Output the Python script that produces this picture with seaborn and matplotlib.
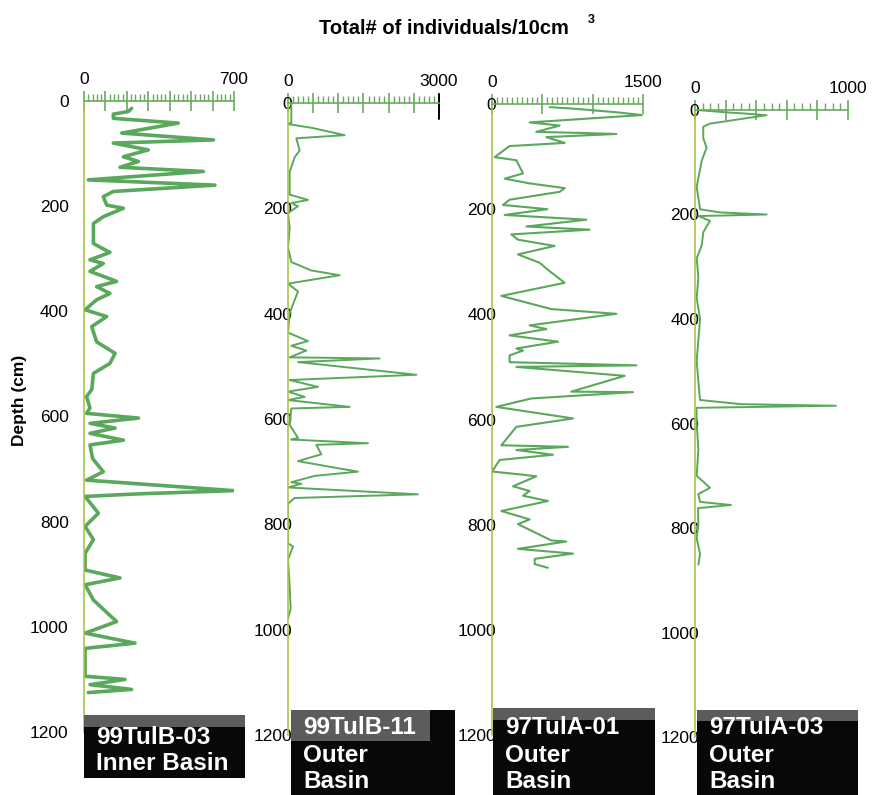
import numpy as np
import pandas as pd
import matplotlib
matplotlib.use("Agg")
import matplotlib.pyplot as plt
import seaborn as sns
from matplotlib.ticker import MultipleLocator, FuncFormatter
from matplotlib.patches import Rectangle

sns.set_theme(style="white")
plt.rcParams["font.family"] = ["Liberation Sans", "DejaVu Sans"]
plt.rcParams["text.color"] = "black"
plt.rcParams["xtick.labelcolor"] = "black"
plt.rcParams["ytick.labelcolor"] = "black"

# core names and basin labels
cores = ["99TulB-03", "99TulB-11", "97TulA-01", "97TulA-03"]
basins = ["Inner Basin", "Outer\nBasin", "Outer\nBasin", "Outer\nBasin"]
x_max = [700, 3000, 1500, 1000]

# 99TulB-03 (depth cm, individuals/10cm3)
depth_b03 = [14, 20, 25, 33, 42, 61, 74, 80, 93, 106, 115, 126, 134, 150, 160, 172, 182, 198, 204, 220,
             233, 271, 288, 302, 309, 324, 343, 353, 366, 378, 397, 410, 429, 458, 480, 499, 518, 549, 562, 584,
             594, 603, 613, 622, 632, 645, 654, 680, 705, 721, 741, 747, 752, 784, 809, 834, 860, 892, 907, 920,
             949, 990, 1012, 1031, 1041, 1094, 1100, 1110, 1119, 1125]
count_b03 = [222, 207, 137, 137, 440, 176, 604, 137, 300, 184, 254, 168, 557, 20, 611, 137, 90, 106, 184, 90,
             44, 44, 121, 28, 90, 28, 152, 59, 121, 59, 5, 106, 36, 59, 145, 121, 44, 36, 12, 28,
             12, 254, 28, 145, 28, 184, 28, 40, 90, 12, 697, 261, 5, 67, 5, 44, 5, 5, 168, 5,
             44, 152, 5, 238, 5, 5, 191, 28, 222, 20]

# 99TulB-11
depth_b11 = [0, 37, 40, 47, 61, 67, 90, 103, 131, 174, 184, 190, 196, 209, 237, 274, 302, 318, 327, 343,
             358, 374, 399, 436, 452, 461, 470, 483, 485, 492, 516, 526, 539, 548, 558, 564, 577, 580, 611, 636,
             639, 646, 649, 667, 680, 689, 700, 708, 720, 723, 730, 743, 750, 761, 836, 842, 867, 917, 960, 979]
count_b11 = [66, 66, 0, 463, 1125, 165, 232, 132, 33, 33, 397, 66, 199, 0, 33, 0, 66, 463, 1026, 0,
             199, 132, 33, 0, 397, 66, 364, 33, 1820, 199, 2550, 33, 596, 0, 331, 0, 1225, 66, 33, 199,
             66, 1589, 563, 662, 199, 728, 1390, 530, 66, 265, 0, 2582, 132, 0, 0, 99, 0, 33, 53, 0]

# 97TulA-01
depth_a01 = [6, 9, 16, 21, 35, 41, 53, 55, 57, 63, 74, 80, 101, 107, 132, 142, 151, 160, 167, 182,
             192, 200, 211, 220, 233, 239, 248, 258, 270, 286, 302, 318, 340, 365, 390, 399, 421, 428, 440, 452,
             465, 469, 478, 491, 497, 500, 517, 547, 548, 560, 576, 598, 614, 649, 652, 658, 667, 677, 699, 705,
             708, 727, 736, 745, 755, 774, 790, 799, 830, 832, 846, 855, 865, 875, 882]
count_a01 = [573, 820, 1250, 1490, 374, 672, 440, 871, 1235, 540, 722, 175, 26, 242, 308, 126, 374, 722, 672, 175,
             109, 550, 126, 937, 341, 970, 192, 258, 622, 258, 473, 573, 722, 93, 589, 1235, 374, 540, 175, 656,
             242, 308, 175, 175, 1434, 242, 1318, 788, 1400, 391, 43, 805, 242, 93, 755, 242, 606, 76, 0, 308,
             440, 209, 374, 308, 556, 93, 374, 258, 589, 738, 258, 805, 424, 424, 556]

# 97TulA-03
depth_a03 = [0, 4, 7, 10, 26, 32, 54, 72, 97, 147, 190, 196, 200, 203, 212, 234, 259, 284, 320, 360,
             400, 440, 480, 520, 555, 563, 566, 570, 600, 650, 700, 723, 735, 750, 756, 762, 790, 820, 850, 870]
count_a03 = [11, 183, 338, 468, 98, 54, 54, 76, 44, 11, 33, 163, 468, 22, 98, 54, 44, 11, 22, 11,
             33, 22, 11, 22, 33, 300, 921, 10, 11, 22, 11, 98, 22, 33, 235, 20, 22, 11, 33, 22]

depths = [depth_b03, depth_b11, depth_a01, depth_a03]
counts = [count_b03, count_b11, count_a01, count_a03]

green = "#5aa85c"
W, H = 878, 795
# panel boxes in pixels: left, top, right, bottom
boxes = [(84, 101, 234, 732), (288, 103, 439, 735), (492, 104, 643, 735), (695, 110, 848, 737)]
line_w = [2.6, 1.4, 1.5, 1.4]
major = [100, 500, 500, 200]
minor = [20, 100, 50, 50]

fig = plt.figure(figsize=(W / 100, H / 100), dpi=100)

for i in range(4):
    l, t, r, b = boxes[i]
    ax = fig.add_axes([l / W, 1 - b / H, (r - l) / W, (b - t) / H])
    df = pd.DataFrame({"depth": depths[i], "count": counts[i]})
    sns.lineplot(data=df, x="count", y="depth", sort=False, estimator=None,
                 color=green, lw=line_w[i], ax=ax)
    ax.set_xlim(0, x_max[i])
    ax.set_ylim(1200, 0)
    ax.set_xlabel("")
    ax.set_ylabel("")
    ax.set_facecolor("none")
    for s in ["right", "bottom"]:
        ax.spines[s].set_visible(False)
    ax.spines["left"].set_color("#a9c646")
    ax.spines["left"].set_linewidth(1.2)
    ax.spines["top"].set_color("#6aaa60")
    ax.spines["top"].set_linewidth(1.2)

    ax.xaxis.tick_top()
    ax.xaxis.set_major_locator(MultipleLocator(major[i]))
    ax.xaxis.set_minor_locator(MultipleLocator(minor[i]))
    xm = x_max[i]
    ax.xaxis.set_major_formatter(FuncFormatter(lambda v, p, xm=xm: f"{v:.0f}" if v in (0, xm) else ""))
    ax.tick_params(axis="x", which="major", direction="inout", length=14, width=1.2,
                   color="#6aaa60", labelsize=12.5, pad=3)
    ax.tick_params(axis="x", which="minor", direction="out", length=5, width=1,
                   color="#6aaa60")

    ax.yaxis.set_major_locator(MultipleLocator(200))
    ax.yaxis.set_minor_locator(MultipleLocator(50))
    if i == 0:
        ax.tick_params(axis="y", which="both", direction="out", length=8, width=1,
                       color="#222222", labelsize=12.5, pad=3)
    else:
        ax.tick_params(axis="y", which="both", direction="out", length=3, width=1,
                       color="#222222", labelsize=12.5, pad=-6)
    if i == 1:
        ax.axvline(3000, ymin=0.975, ymax=1.015, color="black", lw=1.4, clip_on=False)

# label boxes under each core
label_boxes = [(84, 715, 245, 778, 727), (291, 710, 455, 795, 720),
               (493, 708, 655, 795, 720), (697, 710, 858, 795, 721)]
for i, (x0, y0, x1, y1, yg) in enumerate(label_boxes):
    fig.patches.append(Rectangle((x0 / W, 1 - y1 / H), (x1 - x0) / W, (y1 - y0) / H,
                                 transform=fig.transFigure, facecolor="#080808", edgecolor="none", zorder=5))
    gx1 = 430 if i == 1 else x1
    gy = 741 if i == 1 else yg
    fig.patches.append(Rectangle((x0 / W, 1 - gy / H), (gx1 - x0) / W, (gy - y0) / H,
                                 transform=fig.transFigure, facecolor="#5c5c5c", edgecolor="none", zorder=6))
    lines = [cores[i]] + basins[i].split("\n")
    ys = [737, 763] if i == 0 else [727, 755, 781]
    for txt, yy in zip(lines, ys):
        fig.text((x0 + 12) / W, 1 - yy / H, txt, color="white", fontsize=17.5, fontweight="bold",
                 ha="left", va="center", zorder=7)

fig.text(444 / W, 1 - 28 / H, "Total# of individuals/10cm", fontsize=14.5, fontweight="bold",
         ha="center", va="center")
fig.text(591 / W, 1 - 20 / H, "3", fontsize=9, fontweight="bold", ha="center", va="center")
fig.text(20 / W, 1 - 400 / H, "Depth (cm)", fontsize=12.5, fontweight="bold", rotation=90,
         ha="center", va="center")

fig.savefig("out.png", dpi=100, facecolor="white")
